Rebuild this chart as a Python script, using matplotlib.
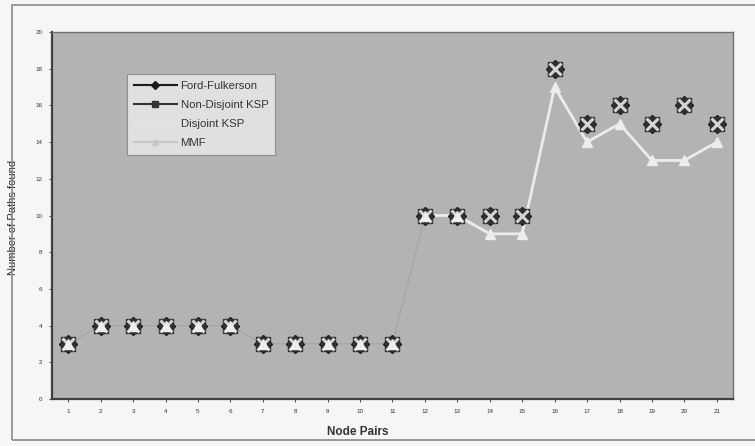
import matplotlib
matplotlib.use("Agg")
import matplotlib.pyplot as plt
from matplotlib.lines import Line2D
from matplotlib.patches import Rectangle

plt.rcParams["font.family"] = ["Liberation Sans", "DejaVu Sans"]

# ── data ───────────────────────────────────────────────────────────────────────
node_pairs = list(range(1, 22))
ford_fulkerson = [3, 4, 4, 4, 4, 4, 3, 3, 3, 3, 3, 10, 10, 10, 10, 18, 15, 16, 15, 16, 15]
non_disjoint_ksp = [3, 4, 4, 4, 4, 4, 3, 3, 3, 3, 3, 10, 10, 10, 10, 18, 15, 16, 15, 16, 15]
disjoint_ksp = [3, 4, 4, 4, 4, 4, 3, 3, 3, 3, 3, 10, 10, 10, 10, 18, 15, 16, 15, 16, 15]
mmf = [3, 4, 4, 4, 4, 4, 3, 3, 3, 3, 3, 10, 10, 9, 9, 17, 14, 15, 13, 13, 14]
y_ticks = list(range(0, 21, 2))

BG = "#b3b3b3"
VISIBLE_FROM = 12  # scan only shows the white MMF line from node pair 13 on

fig = plt.figure(figsize=(7.55, 4.46), dpi=100)
fig.patch.set_facecolor("#f6f6f6")

# outer frame of the scanned chart
fig.add_artist(Rectangle((12 / 755, 1 - 440 / 446), 1.0, 435 / 446,
                         transform=fig.transFigure, fill=False,
                         edgecolor="#8a8a8a", linewidth=1.2))

ax = fig.add_axes([52 / 755, 1 - 399 / 446, 681 / 755, 367 / 446])
ax.set_facecolor(BG)

# faint connecting line (barely visible in the scan)
ax.plot(node_pairs[:VISIBLE_FROM], ford_fulkerson[:VISIBLE_FROM], lw=0.8,
        color="#a4a4a4", zorder=1)
ax.plot(node_pairs[VISIBLE_FROM - 1:], mmf[VISIBLE_FROM - 1:], lw=2,
        color="#ececec", zorder=1)

ax.plot(node_pairs, ford_fulkerson, ls="none", marker="D", ms=9,
        color="#1e1e1e", zorder=3)
ax.plot(node_pairs, non_disjoint_ksp, ls="none", marker="s", ms=9.5,
        color="#303030", zorder=4)
ax.plot(node_pairs, disjoint_ksp, ls="none", marker="x", ms=8, mew=2.2,
        color="#d4d4d4", zorder=5)
ax.plot(node_pairs, mmf, ls="none", marker="^", ms=7,
        mfc="#ededed", mec="#ededed", zorder=6)

ax.set_xlim(0.5, 21.5)
ax.set_ylim(0, 20)
ax.set_xticks(node_pairs)
ax.set_yticks(y_ticks)
ax.tick_params(labelsize=4.5, length=2, width=0.6, colors="#333333", pad=5)
for side in ("left", "bottom"):
    ax.spines[side].set_color("#404040")
    ax.spines[side].set_linewidth(1.6)
for side in ("top", "right"):
    ax.spines[side].set_color("#707070")
    ax.spines[side].set_linewidth(1.0)

ax.set_xlabel("Node Pairs", fontsize=8.5, fontweight="bold", color="#333333")
ax.xaxis.set_label_coords((358 - 52) / 681, -(426 - 399) / 367)
ax.set_ylabel("Number of Paths found", fontsize=8, color="#2a2a2a")
ax.yaxis.set_label_coords(-(52 - 18) / 681, (399 - 217) / 367)

# legend proxies (line style of each series)
handles = [
    Line2D([], [], color="#1a1a1a", lw=1.5, marker="D", ms=4),
    Line2D([], [], color="#333333", lw=1.5, marker="s", ms=5),
    Line2D([], [], color="#e4e4e4", lw=1.5, marker="x", ms=4),
    Line2D([], [], color="#c8c8c8", lw=1.5, marker="^", ms=4),
]
labels = ["Ford-Fulkerson", "Non-Disjoint KSP", "Disjoint KSP", "MMF"]
leg = ax.legend(handles, labels, loc="upper left",
                bbox_to_anchor=((127 - 52) / 681, (399 - 74) / 367),
                fontsize=8.2, frameon=True, fancybox=False,
                facecolor="#ececec", edgecolor="#808080",
                handlelength=3.8, handletextpad=0.3, labelspacing=0.8,
                borderpad=0.6, borderaxespad=0)
leg.get_frame().set_linewidth(0.8)
for t in leg.get_texts():
    t.set_color("#333333")

fig.savefig("out.png", dpi=100, facecolor=fig.get_facecolor())
